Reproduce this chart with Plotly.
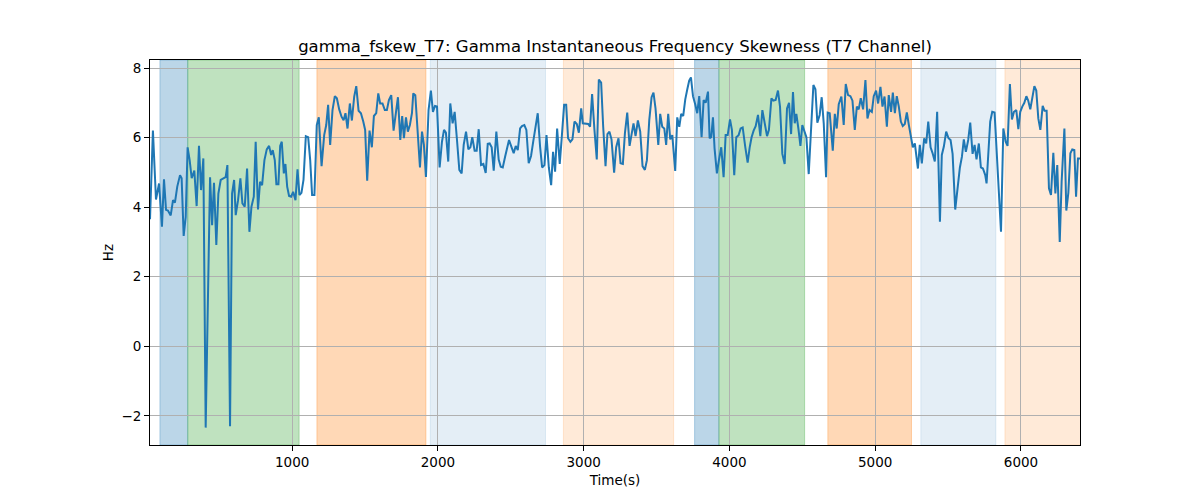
import plotly.graph_objects as go

# time axis (s) and gamma instantaneous frequency skewness (Hz)
time = [
    25, 45, 66, 87, 107, 121, 135, 148, 167, 183, 196, 212, 231, 242, 256, 270, 283, 297, 311, 329,
    345, 361, 375, 391, 407, 437, 451, 464, 480, 494, 510, 528, 544, 556, 574, 588, 602,
    613, 629, 645, 659, 675, 691, 707, 721, 737, 750, 766, 780, 794, 810, 826, 842, 856, 867, 881,
    892, 906, 918, 929, 943, 954, 966, 979, 993, 1007, 1023, 1037, 1050, 1064, 1078, 1094, 1110,
    1124, 1137, 1153,
    1169, 1183, 1202, 1220, 1234, 1247, 1261, 1277, 1293, 1307, 1323, 1339, 1353, 1366, 1380, 1396,
    1410, 1426, 1440, 1456, 1472, 1488, 1501, 1515, 1531, 1547, 1561, 1577, 1591, 1604, 1620, 1636,
    1650, 1664, 1680, 1696, 1710, 1726, 1742, 1755,
    1767, 1781, 1794, 1808, 1822, 1831, 1845, 1861, 1877, 1891, 1904, 1918, 1936, 1952, 1966, 1980,
    1994, 2012, 2028, 2042, 2055, 2071, 2085, 2101, 2115, 2131, 2147, 2163, 2177, 2193, 2209, 2223,
    2236, 2252, 2266, 2280, 2296, 2312, 2328, 2342,
    2355, 2369, 2383, 2401, 2417, 2431, 2445, 2461, 2474, 2488, 2502, 2520, 2534, 2548, 2564, 2577,
    2593, 2607, 2623, 2639, 2655, 2671, 2685, 2701, 2715, 2731, 2745, 2761, 2777, 2790, 2804, 2818,
    2836, 2850, 2866, 2880, 2893, 2909, 2923, 2937,
    2953, 2967, 2983, 2994, 3012, 3031, 3044, 3058, 3074, 3090, 3104, 3120, 3134, 3150, 3163, 3177,
    3191, 3209, 3223, 3239, 3253, 3269, 3283, 3299, 3315, 3328, 3342, 3356, 3372, 3388, 3404, 3420,
    3434, 3450, 3466, 3479, 3493,
    3512, 3525, 3539, 3553, 3566, 3580, 3594, 3608, 3628, 3642, 3656, 3669, 3683, 3697, 3711, 3724,
    3736, 3750, 3766, 3779, 3793, 3809, 3823, 3837, 3853, 3864, 3875, 3887, 3898, 3914, 3928, 3944,
    3960, 3974, 3988, 4004, 4017, 4033, 4047, 4063, 4077, 4091,
    4109, 4125, 4139, 4152, 4166, 4180, 4196, 4212, 4226, 4242, 4258, 4271, 4288, 4301, 4317, 4333,
    4347, 4363, 4379, 4395, 4409, 4423, 4436, 4448, 4459, 4473, 4487, 4500, 4512, 4528, 4544, 4560,
    4576, 4590, 4603, 4619, 4633, 4647, 4663, 4674, 4688,
    4709, 4723, 4736, 4750, 4768, 4784, 4798, 4814, 4830, 4844, 4860, 4874, 4887, 4901, 4917, 4933,
    4947, 4961, 4977, 4990, 5006, 5020, 5036, 5050, 5064, 5080, 5093, 5109, 5121, 5135, 5148, 5162,
    5176, 5189, 5203, 5217, 5231, 5244, 5258, 5272,
    5293, 5306, 5320, 5336, 5350, 5364, 5380, 5393, 5409, 5425, 5444, 5457, 5471, 5487, 5503, 5517,
    5531, 5549, 5565, 5581, 5595, 5608, 5622, 5638, 5652, 5668, 5682, 5695, 5711, 5725, 5739, 5755,
    5764, 5776, 5789, 5803, 5819,
    5863, 5879, 5895, 5908, 5924, 5938, 5952, 5968, 5982, 5995, 6009, 6023, 6037, 6050, 6064, 6078,
    6092, 6105, 6119, 6133, 6149, 6162, 6176, 6192, 6206, 6222, 6236, 6249, 6266, 6279, 6298, 6311,
    6325, 6339, 6352, 6366, 6378, 6391, 6405,
]
fskew = [
    3.65, 6.20, 4.22, 4.68, 3.44, 4.80, 3.92, 3.90, 3.76, 4.20, 4.13, 4.59, 4.92, 4.83, 3.17, 3.72,
    5.72, 5.35, 4.83, 5.05, 4.03, 5.76, 4.49, 5.40, -2.34, 4.86, 3.48, 4.70, 2.91, 4.39, 4.78, 4.83,
    4.86, 5.21, -2.30, 4.39, 4.78,
    3.77, 4.20, 4.83, 4.11, 4.01, 5.11, 3.29, 4.01, 4.30, 5.88, 3.93, 4.73, 4.63, 5.35, 5.66, 5.76,
    5.50, 5.64, 5.35, 4.66, 4.66, 5.76, 5.88, 4.97, 5.24, 4.59, 4.32, 4.30, 4.44, 4.20, 5.09, 4.35,
    4.41, 4.78, 6.04, 6.01, 5.35, 4.35, 4.35,
    6.36, 6.58, 5.18, 6.07, 6.36, 6.94, 5.79, 6.79, 7.19, 7.13, 6.81, 6.60, 6.50, 6.70, 6.26, 6.98,
    6.49, 7.18, 7.48, 6.77, 6.70, 6.46, 6.22, 4.76, 6.20, 5.72, 6.62, 6.70, 7.27, 6.98, 6.98, 6.79,
    6.79, 7.08, 7.22, 6.20, 6.70, 7.16, 5.93, 6.62,
    5.98, 6.58, 6.17, 6.36, 6.70, 7.27, 7.22, 6.22, 5.14, 6.17, 5.79, 4.87, 6.79, 7.35, 6.74, 6.91,
    6.89, 5.14, 5.88, 6.22, 6.14, 5.31, 6.98, 6.41, 6.74, 5.93, 5.07, 4.97, 5.79, 6.17, 5.66, 5.72,
    6.01, 5.62, 5.62, 6.24, 5.21, 5.24, 4.98, 5.82,
    5.83, 5.72, 5.05, 6.17, 5.37, 5.16, 5.14, 5.45, 5.72, 5.93, 5.76, 5.55, 5.76, 5.64, 6.26, 6.33,
    6.36, 6.22, 5.26, 5.47, 5.91, 6.33, 6.70, 5.74, 5.14, 5.21, 6.07, 5.14, 4.63, 5.59, 5.02, 6.26,
    5.24, 6.02, 6.94, 6.94, 5.98, 5.88, 5.95, 6.46,
    6.39, 6.14, 6.84, 6.41, 6.39, 6.39, 6.31, 7.25, 6.22, 5.37, 7.67, 7.58, 6.31, 5.18, 6.10, 6.17,
    5.95, 4.99, 5.72, 5.98, 5.26, 5.24, 6.12, 6.72, 5.76, 6.10, 6.41, 6.04, 6.49, 6.17, 5.18, 5.07,
    5.35, 6.50, 7.16, 7.29, 6.84,
    5.79, 6.68, 6.31, 6.26, 5.79, 6.68, 5.95, 6.07, 5.04, 6.58, 6.31, 6.68, 6.62, 7.10, 7.39, 7.64,
    7.73, 7.19, 6.94, 6.70, 7.19, 6.01, 7.08, 7.00, 7.32, 5.98, 6.01, 6.58, 5.69, 4.97, 5.35, 5.72,
    4.86, 6.07, 6.07, 6.52, 6.22, 4.92, 6.01, 6.07, 6.26, 6.29,
    5.72, 5.28, 5.72, 6.01, 6.20, 6.33, 6.65, 6.04, 6.79, 6.43, 6.04, 6.22, 7.13, 7.06, 7.08, 7.35,
    6.89, 5.53, 5.24, 6.84, 7.00, 6.10, 7.31, 6.41, 6.68, 6.26, 5.76, 6.36, 6.20, 6.01, 4.95, 6.29,
    7.51, 7.39, 6.43, 6.65, 7.16, 6.41, 4.86, 6.72, 6.70,
    5.62, 6.68, 6.26, 6.96, 7.18, 6.36, 7.54, 7.22, 7.19, 7.06, 6.22, 6.89, 6.81, 7.13, 6.81, 7.65,
    6.55, 6.79, 6.74, 7.19, 7.35, 6.98, 7.46, 6.89, 7.18, 6.31, 7.22, 6.74, 7.29, 6.70, 7.19, 6.89,
    6.46, 6.33, 6.39, 6.72, 6.36, 5.98, 5.72, 5.83,
    5.11, 5.79, 5.26, 5.98, 5.83, 6.46, 5.72, 5.56, 5.31, 6.74, 3.58, 5.50, 5.74, 6.17, 5.98, 5.93,
    5.53, 3.93, 4.54, 5.14, 5.45, 5.95, 5.59, 5.93, 6.43, 5.53, 5.79, 5.37, 5.83, 5.14, 5.11, 4.92,
    4.68, 5.50, 6.46, 6.74, 6.72,
    3.29, 6.26, 5.88, 5.76, 7.54, 6.52, 6.74, 6.79, 6.24, 6.74, 6.89, 7.00, 7.19, 7.06, 6.81, 7.10,
    7.48, 7.35, 6.55, 6.22, 6.91, 6.77, 6.77, 4.54, 4.35, 5.56, 4.39, 5.21, 3.00, 4.73, 6.26, 3.90,
    4.41, 5.55, 5.66, 5.64, 4.30, 5.40, 5.40,
]

# shaded segments (start, end in s) and their kind
span_start = [93, 284, 1170, 1948, 2861, 3761, 3928, 4675, 5313, 5890]
span_end = [284, 1048, 1918, 2738, 3617, 3928, 4516, 5249, 5828, 6410]
span_kind = ["A", "B", "C", "D", "E", "A", "B", "C", "D", "E"]

kind_color = {
    "A": "rgba(31,119,180,0.3)",
    "B": "rgba(44,160,44,0.3)",
    "C": "rgba(255,127,14,0.3)",
    "D": "rgba(31,119,180,0.12)",
    "E": "rgba(255,127,14,0.16)",
}

fig = go.Figure()

for s, e, k in zip(span_start, span_end, span_kind):
    fig.add_vrect(x0=s, x1=e, fillcolor=kind_color[k], line=dict(color=kind_color[k], width=1),
                  layer="below")

fig.add_trace(go.Scatter(
    x=time, y=fskew, mode="lines",
    line=dict(color="#1f77b4", width=2),
    showlegend=False,
))

axis_style = dict(
    showgrid=True, gridcolor="#b0b0b0", gridwidth=1,
    zeroline=False,
    showline=True, linecolor="black", linewidth=1, mirror=True,
    ticks="outside", ticklen=5, tickwidth=1, tickcolor="black",
    tickfont=dict(size=13.5, color="black"),
)

# the page puts the figure 8px in from the top-left corner, so margins are trimmed by that
fig.update_layout(
    width=1200, height=500,
    paper_bgcolor="white", plot_bgcolor="white",
    font=dict(family="DejaVu Sans", color="black"),
    margin=dict(l=142, r=128, t=52, b=63),
    title=dict(text="gamma_fskew_T7: Gamma Instantaneous Frequency Skewness (T7 Channel)",
               x=0.5, xref="paper", y=1 - 38 / 500, yref="container", yanchor="middle",
               font=dict(size=16.5)),
    xaxis=dict(axis_style, range=[time[0], time[-1]], tick0=0, dtick=1000,
               title=dict(text="Time(s)", font=dict(size=13.5), standoff=6)),
    yaxis=dict(axis_style, range=[-2.84, 8.23], tick0=0, dtick=2,
               title=dict(text="Hz", font=dict(size=13.5), standoff=4)),
)

fig.write_html("out.html")
